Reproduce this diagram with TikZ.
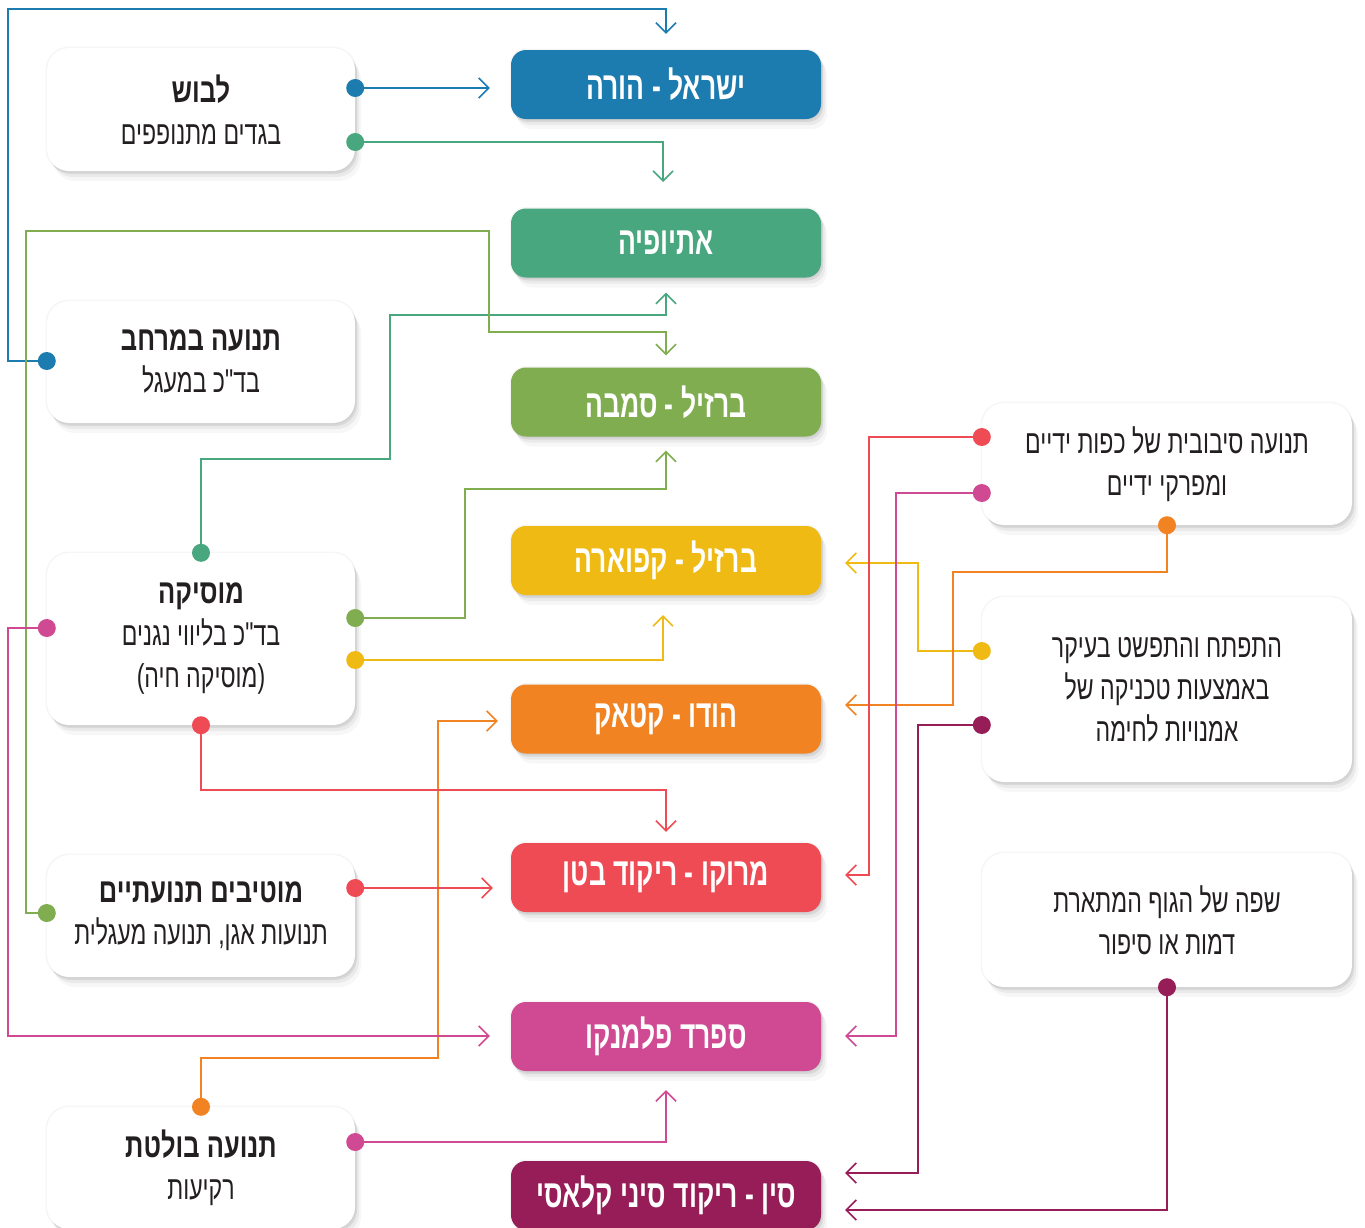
\documentclass[tikz,border=0pt]{standalone}
\usepackage{fontspec}
\TeXXeTstate=1
\newfontfamily\heb[Script=Hebrew,FakeStretch=0.70]{Liberation Sans}
\newfontfamily\hebt[Script=Hebrew,FakeStretch=0.75]{Liberation Sans}
\newfontfamily\hebc[Script=Hebrew,FakeStretch=0.68]{Liberation Sans}
\usetikzlibrary{arrows.meta,shadows}
\definecolor{cblue}{HTML}{1C7BAF}
\definecolor{cteal}{HTML}{48A77F}
\definecolor{colive}{HTML}{80AD50}
\definecolor{cyellow}{HTML}{F0BA14}
\definecolor{corange}{HTML}{F28322}
\definecolor{cred}{HTML}{EF4B55}
\definecolor{cpink}{HTML}{CF4A93}
\definecolor{cmaroon}{HTML}{961D58}
\definecolor{ctext}{HTML}{231F20}
\newcommand{\ttl}[1]{{\hebt\bfseries\fontsize{34}{42}\selectfont\beginR #1\endR}}
\tikzset{
  softshadow/.style={
    general shadow={fill=black,draw=black,line width=3pt,opacity=0.035},
    general shadow={fill=black,opacity=0.07,shadow xshift=2pt,shadow yshift=-3pt},
    general shadow={fill=black,opacity=0.05,shadow xshift=4pt,shadow yshift=-6pt},
    general shadow={fill=black,opacity=0.03,shadow xshift=6pt,shadow yshift=-10pt}},
  cbox/.style={softshadow, rounded corners=15pt, minimum width=310pt, minimum height=69pt,
    text=white, inner sep=0pt, font=\hebc\bfseries\fontsize{39}{40}\selectfont},
  wbox/.style={softshadow, fill=white, rounded corners=22pt, minimum width=308pt,
    text=ctext, inner sep=0pt, align=center, font=\heb\fontsize{33}{42}\selectfont},
  rbox/.style={wbox, minimum width=370pt},
  conn/.style={line width=1.6pt, -{Straight Barb[length=10pt,width=20pt,line width=1.6pt]}},
}
\begin{document}
\begin{tikzpicture}[x=1pt,y=-1pt]
\useasboundingbox (0,0) rectangle (1365,1227);
\clip (0,0) rectangle (1365,1227);
\fill[white] (0,0) rectangle (1365,1227);

% central coloured boxes
\node[cbox, fill=cblue]   (israel)   at (666,84.5)  {\beginR ישראל - הורה\endR};
\node[cbox, fill=cteal]   (ethiopia) at (666,243)   {\beginR אתיופיה\endR};
\node[cbox, fill=colive]  (samba)    at (666,402)   {\beginR ברזיל - סמבה\endR};
\node[cbox, fill=cyellow] (capoeira) at (666,560.5) {\beginR ברזיל - קפוארה\endR};
\node[cbox, fill=corange] (kathak)   at (666,719)   {\beginR הודו - קטאק\endR};
\node[cbox, fill=cred]    (morocco)  at (666,877.5) {\beginR מרוקו - ריקוד בטן\endR};
\node[cbox, fill=cpink]   (flamenco) at (666,1036.5){\beginR ספרד פלמנקו\endR};
\node[cbox, fill=cmaroon] (china)    at (666,1195.5){\beginR סין - ריקוד סיני קלאסי\endR};

% left boxes
\node[wbox, minimum height=123pt] (lavush) at (201,109.5)
  {\ttl{לבוש}\\ \beginR בגדים מתנופפים\endR};
\node[wbox, minimum height=122pt] (merhav) at (201,362)
  {\ttl{תנועה במרחב}\\ \beginR בד"כ במעגל\endR};
\node[wbox, minimum height=172pt] (music) at (201,639)
  {\ttl{מוסיקה}\\ \beginR בד"כ בליווי נגנים\endR\\ \beginR (מוסיקה חיה)\endR};
\node[wbox, minimum height=122pt] (motifs) at (201,916)
  {\ttl{מוטיבים תנועתיים}\\ \beginR תנועות אגן, תנועה מעגלית\endR};
\node[wbox, minimum height=122pt] (bolet) at (201,1168)
  {\ttl{תנועה בולטת}\\ \beginR רקיעות\endR};

% right boxes
\node[rbox, minimum height=122pt] (sivuv) at (1167,464)
  {\beginR תנועה סיבובית של כפות ידיים\endR\\ \beginR ומפרקי ידיים\endR};
\node[rbox, minimum height=185pt] (hitp) at (1167,689.5)
  {\beginR התפתח והתפשט בעיקר\endR\\ \beginR באמצעות טכניקה של\endR\\ \beginR אמנויות לחימה\endR};
\node[rbox, minimum height=134pt] (safa) at (1167,920)
  {\beginR שפה של הגוף המתארת\endR\\ \beginR דמות או סיפור\endR};

% connectors
\draw[conn, cblue, shorten >=21pt] (lavush.east |- 0,88) -- (israel.west |- 0,88);
\draw[conn, cblue, shorten >=16pt] (merhav.west |- 0,361) -| (8,9) -| (israel.north);
\draw[conn, cteal, shorten >=26pt] (lavush.east |- 0,142) -| (663,208);
\draw[conn, cteal, shorten >=15pt] (music.north) |- (390,459) |- (666,315) -- (ethiopia.south);
\draw[conn, colive, shorten >=12pt] (motifs.west |- 0,913) -| (26,231) -| (489,332) -| (samba.north);
\draw[conn, colive, shorten >=14pt] (music.east |- 0,618) -| (465,489) -| (samba.south);
\draw[conn, cyellow, shorten >=20pt] (music.east |- 0,660) -| (663,595);
\draw[conn, cyellow, shorten >=24pt] (hitp.west |- 0,651) -| (918,563) -- (capoeira.east |- 0,563);
\draw[conn, corange, shorten >=24pt] (sivuv.south) |- (953,572) |- (kathak.east |- 0,705);
\draw[conn, corange, shorten >=13pt] (bolet.north) |- (438,1058) |- (kathak.west |- 0,721);
\draw[conn, cred, shorten >=11pt] (music.south) |- (666,790) -- (morocco.north);
\draw[conn, cred, shorten >=18pt] (motifs.east |- 0,888) -- (morocco.west |- 0,888);
\draw[conn, cred, shorten >=24pt] (sivuv.west |- 0,437) -| (869,875) -- (morocco.east |- 0,875);
\draw[conn, cpink, shorten >=24pt] (sivuv.west |- 0,493) -| (896,1036) -- (flamenco.east |- 0,1036);
\draw[conn, cpink, shorten >=21pt] (music.west |- 0,628) -| (8,1036) -- (flamenco.west |- 0,1036);
\draw[conn, cpink, shorten >=19pt] (bolet.east |- 0,1142) -| (flamenco.south);
\draw[conn, cmaroon, shorten >=24pt] (hitp.west |- 0,725) -| (918,1173) -- (china.east |- 0,1173);
\draw[conn, cmaroon, shorten >=24pt] (safa.south) |- (china.east |- 0,1210);

% start dots
\fill[cblue]   (lavush.east |- 0,88) circle (9pt);
\fill[cblue]   (merhav.west |- 0,361) circle (9pt);
\fill[cteal]   (lavush.east |- 0,142) circle (9pt);
\fill[cteal]   (music.north) circle (9pt);
\fill[colive]  (motifs.west |- 0,913) circle (9pt);
\fill[colive]  (music.east |- 0,618) circle (9pt);
\fill[cyellow] (music.east |- 0,660) circle (9pt);
\fill[cyellow] (hitp.west |- 0,651) circle (9pt);
\fill[corange] (sivuv.south) circle (9pt);
\fill[corange] (bolet.north) circle (9pt);
\fill[cred]    (music.south) circle (9pt);
\fill[cred]    (motifs.east |- 0,888) circle (9pt);
\fill[cred]    (sivuv.west |- 0,437) circle (9pt);
\fill[cpink]   (sivuv.west |- 0,493) circle (9pt);
\fill[cpink]   (music.west |- 0,628) circle (9pt);
\fill[cpink]   (bolet.east |- 0,1142) circle (9pt);
\fill[cmaroon] (hitp.west |- 0,725) circle (9pt);
\fill[cmaroon] (safa.south) circle (9pt);
\end{tikzpicture}
\end{document}
